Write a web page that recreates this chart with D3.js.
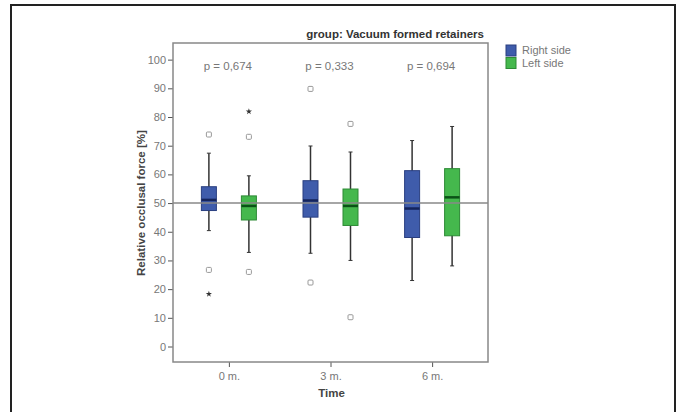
<!DOCTYPE html>
<html>
<head>
<meta charset="utf-8">
<script src="https://cdn.jsdelivr.net/npm/d3@7"></script>
<style>
  body { margin: 0; background: #fff; }
  text { font-family: "Liberation Sans", Arial, sans-serif; }
</style>
</head>
<body>
<div id="chart"></div>
<script>
// data
const categories = ["0 m.", "3 m.", "6 m."]
const seriesNames = ["Right side", "Left side"]
const pValues = ["p = 0,674", "p = 0,333", "p = 0,694"]
const yTicks = [0, 10, 20, 30, 40, 50, 60, 70, 80, 90, 100]

const rightLow = [40.4, 32.5, 23.0]
const rightQ1 = [47.4, 45.1, 38.0]
const rightMedian = [51.1, 50.9, 48.1]
const rightQ3 = [55.7, 57.8, 61.3]
const rightHigh = [67.4, 69.9, 71.8]
const rightOutliers = [[73.9, 26.7], [89.8, 22.3], []]
const rightExtremes = [[18.3], [], []]

const leftLow = [32.8, 30.0, 28.1]
const leftQ1 = [44.1, 42.2, 38.6]
const leftMedian = [49.0, 49.0, 52.0]
const leftQ3 = [52.5, 54.9, 62.0]
const leftHigh = [59.5, 67.8, 76.7]
const leftOutliers = [[73.1, 26.0], [77.6, 10.2], []]
const leftExtremes = [[81.9], [], []]

const referenceValue = 50

const W = 678, H = 412
const plot = { left: 173, right: 488, top: 43, bottom: 362 }

const colors = {
  "Right side": { fill: "#3f5cab", stroke: "#2a3f80", median: "#14245c" },
  "Left side": { fill: "#45b84d", stroke: "#2d8a35", median: "#0b5217" }
}

const svg = d3.select("#chart").append("svg")
  .attr("width", W)
  .attr("height", H)

// outer frame of the figure
svg.append("path")
  .attr("d", `M11,${H + 2}V5H675V${H + 2}`)
  .attr("fill", "none")
  .attr("stroke", "#222")
  .attr("stroke-width", 2)

const x = d3.scalePoint()
  .domain(categories)
  .range([plot.left, plot.right])
  .padding(0.55)

const side = d3.scaleBand()
  .domain(seriesNames)
  .range([-40, 40])

const y = d3.scaleLinear()
  .domain([-5.4, 105.8])
  .range([plot.bottom, plot.top])

const boxW = 15

// build rows for boxes
const boxes = []
categories.forEach((c, i) => {
  boxes.push({ cat: c, s: "Right side", low: rightLow[i], q1: rightQ1[i], med: rightMedian[i], q3: rightQ3[i], high: rightHigh[i], out: rightOutliers[i], ext: rightExtremes[i] })
  boxes.push({ cat: c, s: "Left side", low: leftLow[i], q1: leftQ1[i], med: leftMedian[i], q3: leftQ3[i], high: leftHigh[i], out: leftOutliers[i], ext: leftExtremes[i] })
})
const cx = d => x(d.cat) + side(d.s) + side.bandwidth() / 2

// axes
const yAxis = svg.append("g")
  .attr("transform", `translate(${plot.left},0)`)
  .call(d3.axisLeft(y).tickValues(yTicks).tickSize(5).tickPadding(2))
yAxis.select(".domain").remove()
yAxis.selectAll("line").attr("stroke", "#555")
yAxis.selectAll("text").attr("fill", "#777").style("font-size", "11px")

const xAxis = svg.append("g")
  .attr("transform", `translate(0,${plot.bottom})`)
  .call(d3.axisBottom(x).tickSize(5).tickPadding(5))
xAxis.select(".domain").remove()
xAxis.selectAll("line").attr("stroke", "#555")
xAxis.selectAll("text").attr("fill", "#777").style("font-size", "11px")

// plot frame
svg.append("rect")
  .attr("x", plot.left)
  .attr("y", plot.top)
  .attr("width", plot.right - plot.left)
  .attr("height", plot.bottom - plot.top)
  .attr("fill", "none")
  .attr("stroke", "#888")
  .attr("stroke-width", 1.5)

// whiskers
const g = svg.append("g")
g.selectAll(".whisker")
  .data(boxes)
  .enter()
  .append("line")
  .attr("x1", cx).attr("x2", cx)
  .attr("y1", d => y(d.low)).attr("y2", d => y(d.high))
  .attr("stroke", "#333")
  .attr("stroke-width", 1.5)

boxes.forEach(d => {
  [d.low, d.high].forEach(v => {
    g.append("line")
      .attr("x1", cx(d) - 2).attr("x2", cx(d) + 2)
      .attr("y1", y(v)).attr("y2", y(v))
      .attr("stroke", "#333")
      .attr("stroke-width", 1)
  })
})

// boxes
g.selectAll(".box")
  .data(boxes)
  .enter()
  .append("rect")
  .attr("x", d => cx(d) - boxW / 2)
  .attr("y", d => y(d.q3))
  .attr("width", boxW)
  .attr("height", d => y(d.q1) - y(d.q3))
  .attr("fill", d => colors[d.s].fill)
  .attr("stroke", d => colors[d.s].stroke)
  .attr("stroke-width", 1)

// reference line at 50
svg.append("line")
  .attr("x1", plot.left).attr("x2", plot.right)
  .attr("y1", y(referenceValue)).attr("y2", y(referenceValue))
  .attr("stroke", "#888")
  .attr("stroke-width", 1.5)

// medians
g.selectAll(".median")
  .data(boxes)
  .enter()
  .append("line")
  .attr("x1", d => cx(d) - boxW / 2).attr("x2", d => cx(d) + boxW / 2)
  .attr("y1", d => y(d.med)).attr("y2", d => y(d.med))
  .attr("stroke", d => colors[d.s].median)
  .attr("stroke-width", 2.5)

// outliers (circles) and extremes (stars)
const outs = boxes.flatMap(d => d.out.map(v => ({ d, v })))
svg.selectAll(".outlier")
  .data(outs)
  .enter()
  .append("rect")
  .attr("x", o => cx(o.d) - 2.5)
  .attr("y", o => y(o.v) - 2.5)
  .attr("width", 5).attr("height", 5)
  .attr("rx", 1)
  .attr("fill", "none")
  .attr("stroke", "#999")
  .attr("stroke-width", 1)

const exts = boxes.flatMap(d => d.ext.map(v => ({ d, v })))
svg.selectAll(".extreme")
  .data(exts)
  .enter()
  .append("path")
  .attr("d", d3.symbol(d3.symbolStar, 12))
  .attr("transform", o => `translate(${cx(o.d)},${y(o.v)})`)
  .attr("fill", "#333")

// p-values
svg.selectAll(".pval")
  .data(categories)
  .enter()
  .append("text")
  .attr("x", c => x(c) - 1)
  .attr("y", y(96.3))
  .attr("text-anchor", "middle")
  .attr("fill", "#777")
  .style("font-size", "11.5px")
  .text((c, i) => pValues[i])

// title
svg.append("text")
  .attr("x", 484)
  .attr("y", 38)
  .attr("text-anchor", "end")
  .attr("fill", "#333")
  .style("font-size", "11.5px")
  .style("font-weight", "bold")
  .text("group: Vacuum formed retainers")

// axis titles
svg.append("text")
  .attr("transform", `translate(145,${y(50)}) rotate(-90)`)
  .attr("text-anchor", "middle")
  .attr("fill", "#444")
  .style("font-size", "11.5px")
  .style("font-weight", "bold")
  .text("Relative occlusal force [%]")

svg.append("text")
  .attr("x", (plot.left + plot.right) / 2 + 1)
  .attr("y", 397)
  .attr("text-anchor", "middle")
  .attr("fill", "#444")
  .style("font-size", "11.5px")
  .style("font-weight", "bold")
  .text("Time")

// legend
const legend = svg.selectAll(".legend")
  .data(seriesNames)
  .enter()
  .append("g")
  .attr("transform", (s, i) => `translate(506,${45 + i * 12.5})`)
legend.append("rect")
  .attr("width", 10).attr("height", 11)
  .attr("fill", s => colors[s].fill)
  .attr("stroke", s => colors[s].stroke)
legend.append("text")
  .attr("x", 16).attr("y", 9)
  .attr("fill", "#777")
  .style("font-size", "11px")
  .text(s => s)
</script>
</body>
</html>
